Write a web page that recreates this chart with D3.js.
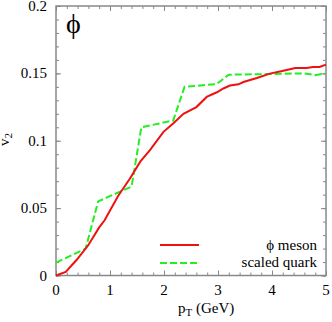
<!DOCTYPE html>
<html><head><meta charset="utf-8">
<script src="https://cdn.jsdelivr.net/npm/d3@7"></script>
<style>body{margin:0;background:#fff}svg{display:block}</style>
</head><body>
<svg id="c" width="332" height="322"></svg>
<script>
const phiX = [0, 0.18, 0.38, 0.6, 0.8, 0.9, 1.15, 1.37, 1.56, 1.74, 1.99, 2.17, 2.36, 2.6, 2.79, 2.98, 3.1, 3.22, 3.38, 3.47, 3.72, 3.96, 4.21, 4.43, 4.64, 4.76, 4.88, 5.0];
const phiV = [0, 0.0026, 0.0115, 0.0226, 0.0357, 0.041, 0.059, 0.072, 0.0845, 0.093, 0.1066, 0.1128, 0.120, 0.125, 0.1325, 0.136, 0.1388, 0.141, 0.1419, 0.1436, 0.1466, 0.1498, 0.152, 0.154, 0.154, 0.1548, 0.1548, 0.1565];
const quarkX = [0, 0.55, 0.78, 1.4, 1.58, 2.17, 2.38, 2.97, 3.2, 4.6, 4.8, 5.0];
const quarkV = [0.0095, 0.02, 0.055, 0.066, 0.11, 0.115, 0.14, 0.142, 0.149, 0.15, 0.1487, 0.15];
const xTicks = [0, 1, 2, 3, 4, 5];
const yTicks = [0, 0.05, 0.1, 0.15, 0.2];
const yTickLabels = ["0", "0.05", "0.1", "0.15", "0.2"];
const seriesNames = ["\u03D5 meson", "scaled quark"];

const FONT = '"Liberation Serif"';
const L = 56, R = 326, T = 6, B = 275.5;
const svg = d3.select("#c");
const x = d3.scaleLinear().domain([0, 5]).range([L, R]);
const y = d3.scaleLinear().domain([0, 0.2]).range([B, T]);
const axisCol = "#888";

const xMinor = d3.range(0, 5.0001, 0.2);
const yMinor = d3.range(0, 0.2001, 0.01);
function styleAxis(g){ g.select(".domain").remove(); g.selectAll("line").attr("stroke", axisCol).attr("stroke-width", 1); }

svg.append("g").attr("transform",`translate(0,${B})`).call(d3.axisTop(x).tickValues(xMinor).tickSize(3).tickFormat("")).call(styleAxis);
svg.append("g").attr("transform",`translate(0,${T})`).call(d3.axisBottom(x).tickValues(xMinor).tickSize(3).tickFormat("")).call(styleAxis);
svg.append("g").attr("transform",`translate(${L},0)`).call(d3.axisRight(y).tickValues(yMinor).tickSize(3).tickFormat("")).call(styleAxis);
svg.append("g").attr("transform",`translate(${R},0)`).call(d3.axisLeft(y).tickValues(yMinor).tickSize(3).tickFormat("")).call(styleAxis);
svg.append("g").attr("transform",`translate(0,${B})`).call(d3.axisTop(x).tickValues(xTicks).tickSize(5).tickFormat("")).call(styleAxis);
svg.append("g").attr("transform",`translate(0,${T})`).call(d3.axisBottom(x).tickValues(xTicks).tickSize(5).tickFormat("")).call(styleAxis);
svg.append("g").attr("transform",`translate(${L},0)`).call(d3.axisRight(y).tickValues(yTicks).tickSize(5).tickFormat("")).call(styleAxis);
svg.append("g").attr("transform",`translate(${R},0)`).call(d3.axisLeft(y).tickValues(yTicks).tickSize(5).tickFormat("")).call(styleAxis);

function txt(sel){ return sel.style("font-family", FONT).attr("fill", "#000"); }

svg.append("g").selectAll("text").data(xTicks).join("text").call(txt)
  .attr("x", d => x(d)).attr("y", 295).attr("text-anchor","middle").attr("font-size",15).text(d => d);
svg.append("g").selectAll("text").data(yTicks).join("text").call(txt)
  .attr("x", 47).attr("y", d => y(d) + 5).attr("text-anchor","end").attr("font-size",15).text((d,i) => yTickLabels[i]);

svg.append("rect").attr("x",L).attr("y",T).attr("width",R-L).attr("height",B-T)
  .attr("fill","none").attr("stroke",axisCol).attr("stroke-width",1.5);

const line = d3.line().x(d => x(d[0])).y(d => y(d[1]));
svg.append("path").datum(quarkX.map((v,i)=>[v,quarkV[i]])).attr("d",line)
  .attr("fill","none").attr("stroke","#22ee22").attr("stroke-width",2).attr("stroke-dasharray","7,3");
svg.append("path").datum(phiX.map((v,i)=>[v,phiV[i]])).attr("d",line)
  .attr("fill","none").attr("stroke","#ee1111").attr("stroke-width",2);

svg.append("line").attr("x1",160).attr("x2",199).attr("y1",245).attr("y2",245).attr("stroke","#ee1111").attr("stroke-width",2);
svg.append("line").attr("x1",160).attr("x2",199).attr("y1",263).attr("y2",263).attr("stroke","#22ee22").attr("stroke-width",2).attr("stroke-dasharray","7,3");
svg.append("text").call(txt).attr("x",317).attr("y",250).attr("text-anchor","end").attr("font-size",15).text(seriesNames[0]);
svg.append("text").call(txt).attr("x",317).attr("y",267).attr("text-anchor","end").attr("font-size",15).text(seriesNames[1]);

svg.append("text").call(txt).attr("x",66).attr("y",33).attr("font-size",28).text("\u03D5");

const xt = svg.append("text").call(txt).attr("x",178).attr("y",313).attr("font-size",15);
xt.append("tspan").text("p");
xt.append("tspan").attr("font-size",11).attr("dy",3).text("T");
xt.append("tspan").attr("dy",-3).text(" (GeV)");
const yt = svg.append("text").call(txt).attr("transform","translate(9,146) rotate(-90)").attr("font-size",15);
yt.append("tspan").text("v");
yt.append("tspan").attr("font-size",11).attr("dy",3).text("2");
</script>
</body></html>
